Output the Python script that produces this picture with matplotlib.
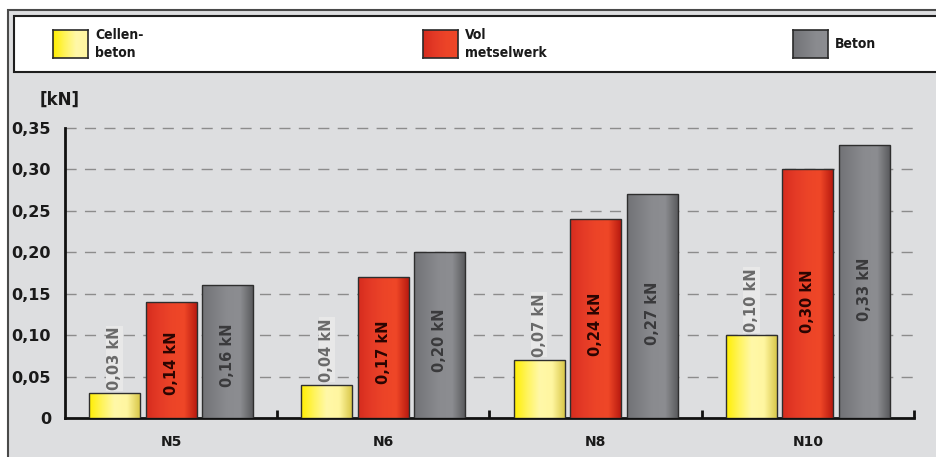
import matplotlib.pyplot as plt
import numpy as np
from matplotlib.colors import LinearSegmentedColormap
from matplotlib.patches import Rectangle
from matplotlib import font_manager

groups = ['N5', 'N6', 'N8', 'N10']
cellenbeton = [0.03, 0.04, 0.07, 0.10]
volmetselwerk = [0.14, 0.17, 0.24, 0.30]
beton = [0.16, 0.20, 0.27, 0.33]
series_names = ['Cellen-\nbeton', 'Vol\nmetselwerk', 'Beton']
yticks = [0, 0.05, 0.10, 0.15, 0.20, 0.25, 0.30, 0.35]

grad_yellow = ['#ffee00', '#fff45a', '#fff8a8', '#fff6a0', '#d9c84a']
grad_red = ['#d62c1e', '#e43a26', '#ec4428', '#ef4727', '#b81a10']
grad_grey = ['#717276', '#7e7f83', '#8a8b8f', '#8c8d91', '#5a5b5e']

W, H = 937, 457
fig = plt.figure(figsize=(W / 100, H / 100), dpi=100, facecolor='white')

def fx(px):
    return px / W

def fy(py):
    return 1 - py / H

# outer frame and legend box
fig.patches.append(Rectangle((fx(8), fy(H + 5)), fx(W), fy(10) - fy(H + 5),
                             transform=fig.transFigure, facecolor='#dddee0',
                             edgecolor='#4a4a4a', lw=1.5, zorder=-10))
fig.patches.append(Rectangle((fx(14), fy(72)), fx(W), fy(16) - fy(72),
                             transform=fig.transFigure, facecolor='white',
                             edgecolor='#1e1e1e', lw=1.5, zorder=-9))

names = {f.name for f in font_manager.fontManager.ttflist}
narrow = [f for f in ['Liberation Sans Narrow', 'DejaVu Sans'] if f in names]

legend_x = [53, 423, 793]
for lx, name, cols in zip(legend_x, series_names, [grad_yellow, grad_red, grad_grey]):
    cax = fig.add_axes([fx(lx), fy(58), fx(35), fy(30) - fy(58)])
    cax.imshow(np.linspace(0, 1, 64).reshape(1, -1), aspect='auto',
               cmap=LinearSegmentedColormap.from_list('l', cols[:4]))
    cax.set_xticks([])
    cax.set_yticks([])
    for s in cax.spines.values():
        s.set_color('#2a2a2a')
        s.set_linewidth(1.2)
    fig.text(fx(lx + 42), fy(44), name, family=narrow, weight='bold', stretch='condensed',
             fontsize=10, va='center', ha='left', linespacing=1.45, color='#1a1a1a')

ax = fig.add_axes([fx(65), fy(418), fx(914) - fx(65), fy(128) - fy(418)])
ax.set_facecolor('none')

x = np.arange(len(groups))
step = 0.266
width = 0.24
series = [(cellenbeton, grad_yellow), (volmetselwerk, grad_red), (beton, grad_grey)]
label_colors = ['#6a6a6a', '#2a0502', '#3a3a3c']

grad = np.linspace(0, 1, 256).reshape(1, -1)
for i, (vals, cols) in enumerate(series):
    bars = ax.bar(x + (i - 1) * step, vals, width, facecolor='none',
                  edgecolor='#2e2e2e', linewidth=1, zorder=4)
    cmap = LinearSegmentedColormap.from_list('g%d' % i, cols)
    for b, v in zip(bars, vals):
        x0, y0 = b.get_x(), b.get_y()
        im = ax.imshow(grad, extent=[x0, x0 + b.get_width(), y0, y0 + b.get_height()],
                       aspect='auto', cmap=cmap, interpolation='bilinear', zorder=3)
        im.set_clip_path(b)
        txt = ('%.2f kN' % v).replace('.', ',')
        xc = b.get_x() + b.get_width() / 2
        if i == 0:
            ax.text(xc, v + 0.004, txt, rotation=90, ha='center', va='bottom',
                    fontsize=10.5, weight='bold', color=label_colors[i], zorder=5,
                    bbox=dict(facecolor='#e8e8e8', edgecolor='none', pad=0.5))
        else:
            ax.text(xc, v * 0.47, txt, rotation=90, ha='center', va='center',
                    fontsize=10.5, weight='bold', color=label_colors[i], zorder=5)

ax.set_xlim(-0.5, len(groups) - 0.5)
ax.set_ylim(0, 0.35)

ax.set_yticks(yticks)
ax.set_yticklabels(['0' if v == 0 else ('%.2f' % v).replace('.', ',') for v in yticks],
                   fontsize=11.5, weight='bold', color='#1a1a1a')
ax.tick_params(axis='y', length=0, pad=10)

ax.set_xticks(x)
ax.set_xticklabels(groups, fontsize=10, weight='bold', color='#1a1a1a')
ax.tick_params(axis='x', which='major', length=0, pad=12)
ax.set_xticks(list(x[:-1] + 0.5) + [len(groups) - 0.5], minor=True)
ax.tick_params(axis='x', which='minor', direction='in', length=6, width=2, color='#111111')

for yv in yticks[1:]:
    ax.axhline(yv, color='#8c8c8c', lw=1, dashes=(8, 6), zorder=1, clip_on=False)

for side in ['top', 'right']:
    ax.spines[side].set_visible(False)
for side in ['left', 'bottom']:
    ax.spines[side].set_linewidth(2)
    ax.spines[side].set_color('#111111')

fig.text(fx(40), fy(100), '[kN]', fontsize=12, weight='bold', color='#1a1a1a',
         ha='left', va='center')

fig.savefig('out.png', dpi=100)
